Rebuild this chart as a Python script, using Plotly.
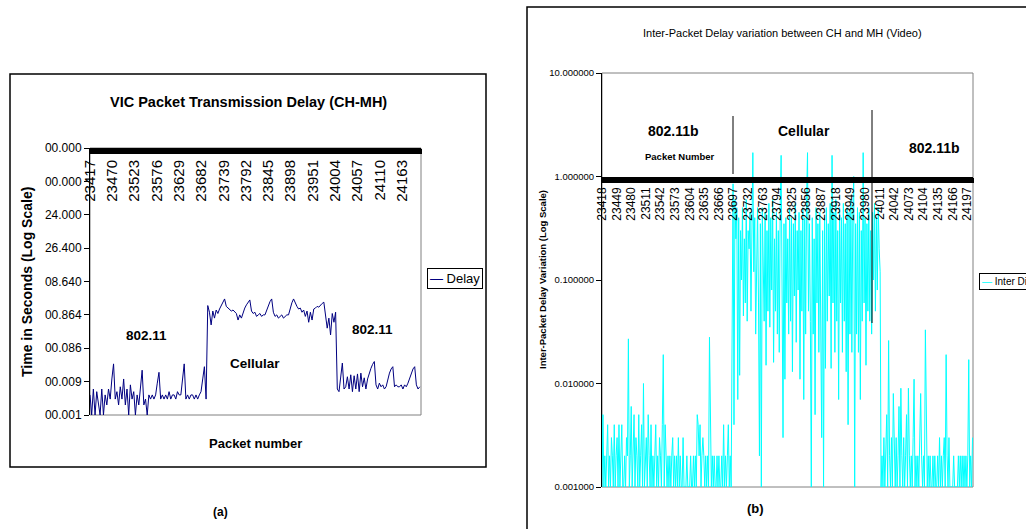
import plotly.graph_objects as go

W, H = 1026, 529

# ---------------- data ----------------
# Both charts span ~788 consecutive packets (category index 0..787).
N_PACKETS = 788
STEP_A = 4   # delay listed for every 4th packet
STEP_B = 2   # inter-packet variation listed for every 2nd packet

# (a) per-packet transmission delay (seconds)
delay = [
    # 802.11
    0.004, 0.001, 0.006, 0.001, 0.005, 0.002, 0.001, 0.006, 0.001, 0.004, 0.002, 0.006, 0.003,
    0.012, 0.034, 0.003,
    0.005, 0.002, 0.007, 0.003, 0.012, 0.002, 0.006, 0.001, 0.008, 0.003, 0.005, 0.001, 0.004, 0.002,
    0.009, 0.022, 0.002,
    0.003, 0.001, 0.004, 0.003, 0.004, 0.003, 0.004,
    0.009, 0.019, 0.003,
    0.004, 0.003, 0.004, 0.003, 0.005, 0.003, 0.004, 0.004, 0.003, 0.005, 0.004, 0.004,
    0.012, 0.034, 0.003,
    0.004, 0.003, 0.004, 0.004, 0.003, 0.004, 0.003, 0.004, 0.005,
    0.012, 0.028, 0.003,
    # cellular
    1.9, 1.2, 0.5, 1.3, 0.8, 1.4, 1.1, 1.5, 1.9, 2.5,
    3.0, 1.8, 1.6, 1.5, 1.3, 1.4, 1.2, 1.1, 0.7, 1.0,
    0.8, 1.2, 1.6, 2.0, 2.5, 2.8, 1.3, 1.1, 1.2, 0.9,
    1.0, 1.1, 0.9, 1.0, 1.0, 1.4, 1.9, 2.5, 3.0, 1.2,
    0.9, 1.0, 0.8, 0.9, 1.0, 0.8, 0.9, 1.0, 1.0, 1.6,
    2.3, 3.0, 2.2, 1.8, 1.5, 1.6, 1.2, 1.4, 0.9, 1.3,
    0.6, 1.2, 0.7, 1.5, 1.6, 1.8, 1.7, 2.0, 2.2, 2.4,
    1.0, 0.4, 0.8, 0.25, 1.1, 0.6, 1.2,
    # 802.11
    0.006, 0.005, 0.015, 0.036, 0.006, 0.007, 0.014, 0.006, 0.016, 0.005,
    0.015, 0.006, 0.017, 0.005, 0.018, 0.007, 0.013, 0.006, 0.012, 0.018,
    0.025, 0.033, 0.040, 0.008, 0.006, 0.009, 0.007, 0.008, 0.006, 0.007,
    0.012, 0.018, 0.024, 0.028, 0.007, 0.008, 0.007, 0.007, 0.008, 0.006,
    0.008, 0.007, 0.009, 0.013, 0.018, 0.024, 0.028, 0.008, 0.006, 0.007,
]

# (b) inter-packet delay variation (seconds)
inter_diff = [
    # 802.11b
    0.001, 0.005, 0.001, 0.002, 0.001, 0.003, 0.004, 0.001, 0.002, 0.001,
    0.003, 0.002, 0.001, 0.004, 0.001, 0.002, 0.003, 0.001, 0.004, 0.001,
    0.002, 0.004, 0.001, 0.001, 0.002, 0.001, 0.003, 0.002, 0.027, 0.001,
    0.002, 0.006, 0.001, 0.002, 0.005, 0.001, 0.003, 0.002, 0.001, 0.005,
    0.001, 0.002, 0.004, 0.001, 0.010, 0.001, 0.002, 0.003, 0.001, 0.005,
    0.002, 0.001, 0.004, 0.001, 0.002, 0.001, 0.002, 0.004, 0.001, 0.002,
    0.001, 0.003, 0.002, 0.001, 0.004, 0.019, 0.001, 0.004, 0.002, 0.001,
    0.002, 0.001, 0.002, 0.001, 0.002, 0.003, 0.001, 0.002, 0.001, 0.002,
    0.001, 0.003, 0.001, 0.002, 0.001, 0.001, 0.003, 0.001, 0.001, 0.001,
    0.002, 0.001, 0.001, 0.001, 0.002, 0.001, 0.001, 0.002, 0.001, 0.002,
    0.001, 0.005, 0.004, 0.002, 0.004, 0.001, 0.002, 0.003, 0.002, 0.001,
    0.002, 0.001, 0.002, 0.001, 0.028, 0.002, 0.001, 0.002, 0.001, 0.002,
    0.001, 0.001, 0.002, 0.001, 0.002, 0.001, 0.001, 0.002, 0.001, 0.004,
    0.001, 0.002, 0.001, 0.002, 0.004, 0.001, 0.002, 0.001,
    # cellular
    0.022, 0.85, 0.004, 0.6, 0.25, 0.5, 0.007, 0.4, 0.012, 0.3,
    0.1, 0.5, 0.045, 0.25, 0.06, 0.6, 0.04, 0.3, 0.2, 0.45,
    0.05, 0.35, 1.7, 0.12, 0.4, 0.03, 0.25, 0.5, 0.06, 0.002,
    0.35, 0.001, 0.5, 0.2, 0.04, 0.45, 0.015, 0.3, 0.05, 0.55,
    0.035, 0.4, 0.08, 0.6, 0.016, 0.25, 0.05, 0.45, 0.03, 0.3,
    0.02, 0.5, 1.6, 0.08, 0.003, 0.35, 0.011, 0.4, 0.06, 0.25,
    0.03, 0.5, 0.04, 0.4, 0.013, 0.35, 0.07, 0.55, 0.025, 0.3,
    0.08, 0.45, 0.011, 0.3, 0.05, 0.5, 0.007, 0.4, 0.03, 0.6,
    1.7, 0.05, 0.35, 0.04, 0.001, 0.4, 0.03, 0.25, 0.005, 0.5,
    0.06, 0.35, 0.02, 0.45, 0.05, 0.003, 0.3, 0.001, 0.4, 0.014,
    0.5, 0.04, 0.35, 0.07, 0.55, 0.014, 1.6, 0.06, 0.45, 0.02,
    0.6, 0.04, 0.3, 0.007, 0.5, 0.06, 0.4, 0.02, 0.55, 0.04,
    0.35, 0.013, 0.5, 0.004, 0.45, 0.03, 0.6, 0.02, 0.4, 1.0,
    0.001, 0.35, 0.03, 0.5, 0.02, 0.45, 0.007, 0.3, 0.04, 1.7,
    0.06, 0.4, 0.015, 0.35, 0.05, 0.5, 0.04, 0.3, 0.03, 0.45,
    0.1, 0.55, 0.05, 0.4, 0.08, 0.5, 0.2, 0.12,
    # 802.11b
    0.001, 0.002, 0.001, 0.003, 0.001, 0.002, 0.005, 0.001, 0.026, 0.002,
    0.001, 0.003, 0.001, 0.008, 0.002, 0.001, 0.003, 0.001, 0.002, 0.006,
    0.001, 0.009, 0.002, 0.001, 0.003, 0.001, 0.002, 0.005, 0.001, 0.009,
    0.002, 0.001, 0.002, 0.001, 0.003, 0.011, 0.001, 0.002, 0.001, 0.002,
    0.001, 0.005, 0.008, 0.002, 0.001, 0.002, 0.001, 0.033, 0.002, 0.001,
    0.002, 0.001, 0.002, 0.001, 0.001, 0.002, 0.001, 0.002, 0.001, 0.001,
    0.002, 0.001, 0.003, 0.001, 0.002, 0.001, 0.002, 0.003, 0.001, 0.019,
    0.002, 0.001, 0.003, 0.001, 0.001, 0.001, 0.001, 0.002, 0.001, 0.001,
    0.001, 0.001, 0.002, 0.001, 0.002, 0.001, 0.002, 0.001, 0.002, 0.001,
    0.002, 0.001, 0.002, 0.017, 0.001, 0.002, 0.001, 0.003,
]

# category tick labels
labels_a = ["23417", "23470", "23523", "23576", "23629", "23682", "23739", "23792",
            "23845", "23898", "23951", "24004", "24057", "24110", "24163"]
label_step_a = 53
labels_b = ["23418", "23449", "23480", "23511", "23542", "23573", "23604", "23635",
            "23666", "23697", "23732", "23763", "23794", "23825", "23856", "23887",
            "23918", "23949", "23980", "24011", "24042", "24073", "24104", "24135",
            "24166", "24197"]
label_step_b = 31

ytick_vals_a = [1e-3, 1e-2, 1e-1, 1e0, 1e1, 1e2, 1e3, 1e4, 1e5]
ytick_text_a = ["00.001", "00.009", "00.086", "00.864", "08.640", "26.400",
                "24.000", "00.000", "00.000"]
ytick_vals_b = [0.001, 0.01, 0.1, 1.0, 10.0]
ytick_text_b = ["0.001000", "0.010000", "0.100000", "1.000000", "10.000000"]

# ---------------- helpers ----------------
FONT = "Liberation Sans, Arial, sans-serif"


def fx(x):
    return x / W


def fy(y):
    return 1 - y / H


x_a = [i * STEP_A for i in range(len(delay))]
x_b = [i * STEP_B for i in range(len(inter_diff))]

dom_xa = [fx(90), fx(421)]
dom_ya = [fy(415), fy(148)]
dom_xb = [fx(602), fx(973)]
dom_yb = [fy(487), fy(73)]
yrange_b = [-3, 1]
# x axis of (b) crosses the log axis at 1.0 (log10 = 0)
pos_xb = dom_yb[0] + (0 - yrange_b[0]) / (yrange_b[1] - yrange_b[0]) * (dom_yb[1] - dom_yb[0])

fig = go.Figure()
fig.add_trace(go.Scatter(x=x_a, y=delay, mode="lines", name="Delay",
                         line=dict(color="#000080", width=1),
                         xaxis="x", yaxis="y", showlegend=False))
fig.add_trace(go.Scatter(x=x_b, y=inter_diff, mode="lines", name="Inter Diff",
                         line=dict(color="#00FFFF", width=1),
                         xaxis="x2", yaxis="y2", showlegend=False))

minor_ticks = dict(ticks="outside", ticklen=5, tickwidth=1, tickcolor="black",
                   tickmode="linear", tick0=0, dtick=1, showgrid=False)

fig.update_layout(
    width=W, height=H,
    margin=dict(l=0, r=0, t=0, b=0, pad=0, autoexpand=False),
    paper_bgcolor="white", plot_bgcolor="white",
    font=dict(family=FONT, color="black"),
    showlegend=False,
    xaxis=dict(domain=dom_xa, anchor="free", position=dom_ya[1], side="bottom",
               range=[0, N_PACKETS - 1], showgrid=False, zeroline=False,
               showline=True, linecolor="black", linewidth=1,
               tickmode="array",
               tickvals=[i * label_step_a for i in range(len(labels_a))],
               ticktext=labels_a, tickangle=-90,
               tickfont=dict(size=15, family=FONT, color="black"),
               ticks="outside", ticklen=5, tickcolor="black",
               minor=minor_ticks),
    yaxis=dict(domain=dom_ya, anchor="x", type="log", range=[-3, 5],
               showgrid=False, zeroline=False,
               showline=True, linecolor="black", linewidth=1,
               tickmode="array", tickvals=ytick_vals_a, ticktext=ytick_text_a,
               tickfont=dict(size=12, family=FONT, color="black"),
               ticks="outside", ticklen=5, tickcolor="black"),
    xaxis2=dict(domain=dom_xb, anchor="free", position=pos_xb, side="bottom",
                range=[0, N_PACKETS - 1], showgrid=False, zeroline=False,
                showline=True, linecolor="black", linewidth=1,
                tickmode="array",
                tickvals=[i * label_step_b for i in range(len(labels_b))],
                ticktext=labels_b, tickangle=-90,
                tickfont=dict(size=12, family=FONT, color="black"),
                ticks="outside", ticklen=5, tickcolor="black",
                minor=minor_ticks),
    yaxis2=dict(domain=dom_yb, anchor="x2", type="log", range=yrange_b,
                showgrid=False, zeroline=False,
                showline=True, linecolor="black", linewidth=1,
                tickmode="array", tickvals=ytick_vals_b, ticktext=ytick_text_b,
                tickfont=dict(size=9.5, family=FONT, color="black"),
                ticks="outside", ticklen=5, tickcolor="black"),
)

shapes = [
    # chart frames
    dict(type="rect", xref="paper", yref="paper", x0=fx(10), x1=fx(486),
         y0=fy(467), y1=fy(74), line=dict(color="black", width=1.5)),
    dict(type="rect", xref="paper", yref="paper", x0=fx(527), x1=fx(1040),
         y0=fy(545), y1=fy(7), line=dict(color="black", width=1.5)),
    # plot area borders
    dict(type="rect", xref="x domain", yref="y domain", x0=0, x1=1, y0=0, y1=1,
         line=dict(color="#808080", width=1), layer="below"),
    dict(type="rect", xref="x2 domain", yref="y2 domain", x0=0, x1=1, y0=0, y1=1,
         line=dict(color="#808080", width=1), layer="below"),
    # network switch markers in (b)
    dict(type="line", xref="paper", yref="paper", x0=fx(733), x1=fx(733),
         y0=fy(174), y1=fy(116), line=dict(color="black", width=1)),
    dict(type="line", xref="paper", yref="paper", x0=fx(872), x1=fx(872),
         y0=fy(323), y1=fy(110), line=dict(color="black", width=1)),
]
fig.update_layout(shapes=shapes)


def note(text, x, y, size, bold=False, angle=0):
    t = f"<b>{text}</b>" if bold else text
    fig.add_annotation(text=t, x=fx(x), y=fy(y), xref="paper", yref="paper",
                       xanchor="center", yanchor="middle",
                       showarrow=False, textangle=angle,
                       font=dict(size=size, family=FONT, color="black"))


# (a) texts
note("VIC Packet Transmission Delay (CH-MH)", 248, 102, 14.5, bold=True)
note("Time in Seconds (Log Scale)", 27, 282, 14, bold=True, angle=-90)
note("Packet number", 255, 443, 13, bold=True)
note("802.11", 146, 335, 13.5, bold=True)
note("Cellular", 255, 363, 13.5, bold=True)
note("802.11", 372, 329, 13.5, bold=True)
note("(a)", 220, 512, 12, bold=True)
fig.add_annotation(text="<span style='color:#000080'>—</span> Delay",
                   x=fx(427), y=fy(268), xref="paper", yref="paper",
                   xanchor="left", yanchor="top", showarrow=False,
                   font=dict(size=13, family=FONT, color="black"),
                   bordercolor="black", borderwidth=1, borderpad=2,
                   bgcolor="white")

# (b) texts
note("Inter-Packet Delay variation between CH and MH (Video)", 782, 33, 11)
note("Inter-Packet Delay Variation (Log Scale)", 542, 280, 9.5, bold=True, angle=-90)
note("802.11b", 673, 131, 14, bold=True)
note("Packet Number", 679, 157, 9.5, bold=True)
note("Cellular", 804, 131, 14, bold=True)
note("802.11b", 934, 148, 14, bold=True)
note("(b)", 755, 508, 13, bold=True)
fig.add_annotation(text="<span style='color:#00FFFF'>—</span> Inter Diff",
                   x=fx(979), y=fy(273), xref="paper", yref="paper",
                   xanchor="left", yanchor="top", showarrow=False,
                   font=dict(size=10, family=FONT, color="black"),
                   bordercolor="black", borderwidth=1, borderpad=2,
                   bgcolor="white")

# page body without the default margin so the 1026x529 figure fills the window
fig.write_html("out.html",
               post_script="document.body.style.margin='0';"
                           "document.body.style.overflow='hidden';")
